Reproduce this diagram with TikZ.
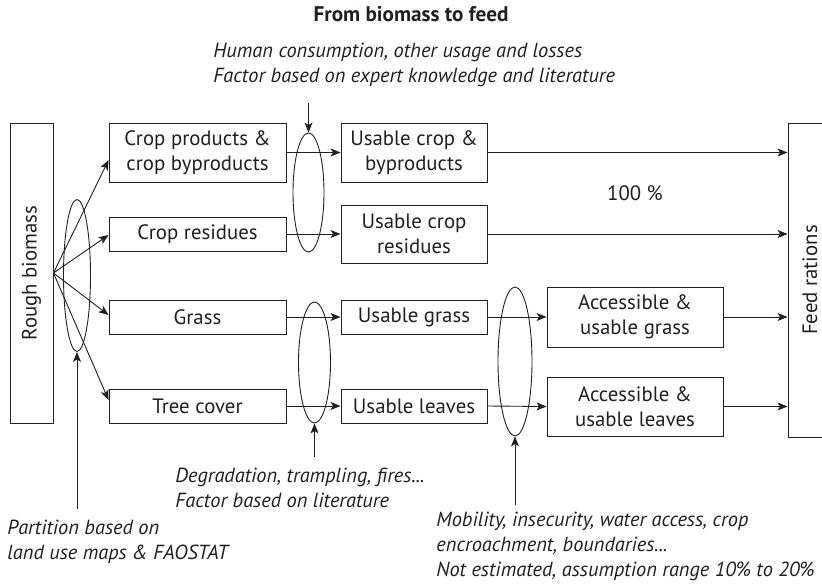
\documentclass[tikz,border=0pt]{standalone}
\usepackage{fontspec}
\setmainfont{PT Sans}
\usetikzlibrary{arrows.meta,calc,shapes.geometric}
\definecolor{ink}{HTML}{231F20}
\begin{document}
\begin{tikzpicture}[x=1pt,y=1pt, line width=0.9pt, draw=ink, text=ink,
  box/.style={draw=ink, rectangle, inner sep=0pt, align=center, font=\fontsize{20.8}{25}\selectfont},
  ell/.style={draw=ink, ellipse, inner sep=0pt},
  arr/.style={draw=ink, -{Stealth[length=10pt,width=8pt,inset=2.5pt]}},
  note/.style={align=left, anchor=west, inner sep=0pt, font=\fontsize{20.4}{25}\selectfont\itshape},
  lbl/.style={inner sep=0pt, font=\fontsize{20.8}{25}\selectfont}]
\useasboundingbox (0,0) rectangle (822,-586);
\clip (0,0) rectangle (822,-586);

% title
\node[lbl, font=\fontsize{21.2}{25}\selectfont\bfseries] (title) at (411,-14) {From biomass to feed};

% main boxes
\node[box, minimum width=43, minimum height=300] (rough) at (31.5,-273) {};
\node[lbl, rotate=90] (roughtxt) at (rough.center) {Rough biomass};

\node[box, minimum width=177, minimum height=59] (cp) at (197.5,-152.5) {Crop products \&\\crop byproducts};
\node[box, minimum width=177, minimum height=34] (cr) at (197.5,-234) {Crop residues};
\node[box, minimum width=177, minimum height=34] (gr) at (197.5,-317) {Grass};
\node[box, minimum width=177, minimum height=34] (tc) at (197.5,-406) {Tree cover};

\node[box, minimum width=146, minimum height=59] (ucb) at (414,-152.5) {Usable crop \&\\byproducts};
\node[box, minimum width=146, minimum height=58] (ucr) at (414,-234) {Usable crop\\residues};
\node[box, minimum width=146, minimum height=34] (ug) at (414,-317) {Usable grass};
\node[box, minimum width=146, minimum height=34] (ul) at (414,-406) {Usable leaves};

\node[box, minimum width=176, minimum height=60] (ag) at (635,-317) {Accessible \&\\usable grass};
\node[box, minimum width=176, minimum height=59] (al) at (635,-406.5) {Accessible \&\\usable leaves};

\node[box, minimum width=44, minimum height=314] (feed) at (810,-280) {};
\node[lbl, rotate=90] (feedtxt) at (feed.center) {Feed rations};

% ellipses
\node[ell, minimum width=27, minimum height=152] (e1) at (77,-275.5) {};
\node[ell, minimum width=31, minimum height=119] (e2) at (308.5,-192.5) {};
\node[ell, minimum width=32, minimum height=121] (e3) at (314.5,-362.5) {};
\node[ell, minimum width=34, minimum height=149] (e4) at (515,-361.5) {};

% fan-out arrows
\draw[arr] (rough.east) -- ($(cp.west)+(0,-7.5)$);
\draw[arr] (rough.east) -- ($(cr.west)+(0,-1)$);
\draw[arr] (rough.east) -- ($(gr.west)+(0,2)$);
\draw[arr] (rough.east) -- ($(tc.west)+(0,6)$);

% horizontal flow
\draw[arr] (cp.east) -- (ucb.west);
\draw[arr] (cr.east) -- (ucr.west);
\draw[arr] (gr.east) -- (ug.west);
\draw[arr] (tc.east) -- (ul.west);
\draw[arr] (ug.east) -- (ag.west);
\draw[arr] (ul.east) -- (al.west);
\draw[arr] (ucb.east) -- (ucb.east -| feed.west);
\draw[arr] (ucr.east) -- (ucr.east -| feed.west);
\draw[arr] (ag.east) -- (ag.east -| feed.west);
\draw[arr] (al.east) -- (al.east -| feed.west);

\node[lbl] (pct) at (635,-193) {100 \%};

% annotations
\node[note] (n2) at (213,-65) {Human consumption, other usage and losses\\Factor based on expert knowledge and literature};
\coordinate (t2) at (308.5,-103);
\draw[arr] (t2) -- (e2.north);

\node[note] (n3) at (175,-488) {Degradation, trampling, fires...\\Factor based on literature};
\coordinate (t3) at (314.5,-457);
\draw[arr] (t3) -- (e3.south);

\node[note] (n1) at (7,-541.5) {Partition based on\\land use maps \& FAOSTAT};
\coordinate (t1) at (77,-509);
\draw[arr] (t1) -- (e1.south);

\node[note] (n4) at (436,-546) {Mobility, insecurity, water access, crop\\encroachment, boundaries...\\Not estimated, assumption range 10\% to 20\%};
\coordinate (t4) at (515,-505);
\draw[arr] (t4) -- (e4.south);
\end{tikzpicture}
\end{document}
